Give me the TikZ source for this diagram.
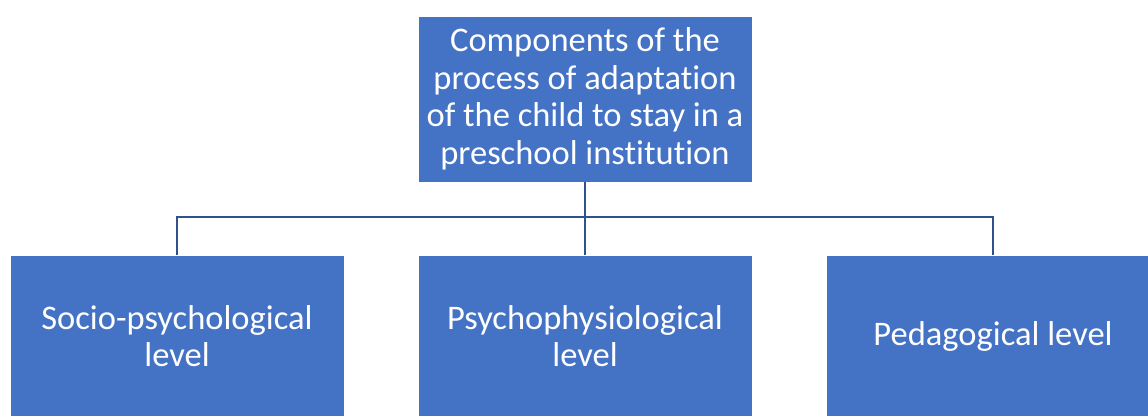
\documentclass[tikz,border=0pt]{standalone}
\usepackage{fontspec}
\setmainfont[Ligatures=NoCommon]{Carlito}
\usetikzlibrary{calc}
\definecolor{boxblue}{HTML}{4472C4}
\definecolor{linkblue}{RGB}{47,82,143}
\begin{document}
\begin{tikzpicture}[x=1pt,y=-1pt,
  levelbox/.style={fill=boxblue, draw=white, line width=0.6pt, text=white, align=center,
    minimum width=334pt, inner sep=0pt, font=\fontsize{34.5}{37.5}\selectfont},
  link/.style={draw=linkblue, line width=2.2pt}]
\useasboundingbox (0,0) rectangle (1148,415);
\clip (0,0) rectangle (1148,415);
\node[levelbox, minimum height=166pt] (top) at (585,99)
  {Components of the\\process of adaptation\\of the child to stay in a\\preschool institution};
\node[levelbox, minimum height=162pt] (left) at (177,336) {Socio-psychological\\level};
\node[levelbox, minimum height=162pt] (mid) at (585,336) {Psychophysiological\\level};
\node[levelbox, minimum height=162pt] (right) at (993,336) {Pedagogical level};
\coordinate (bus) at ($(top.south)+(0,35)$);
\draw[link] (top.south) -- (mid.north);
\draw[link] (left.north) |- (bus) -| (right.north);
\end{tikzpicture}
\end{document}
